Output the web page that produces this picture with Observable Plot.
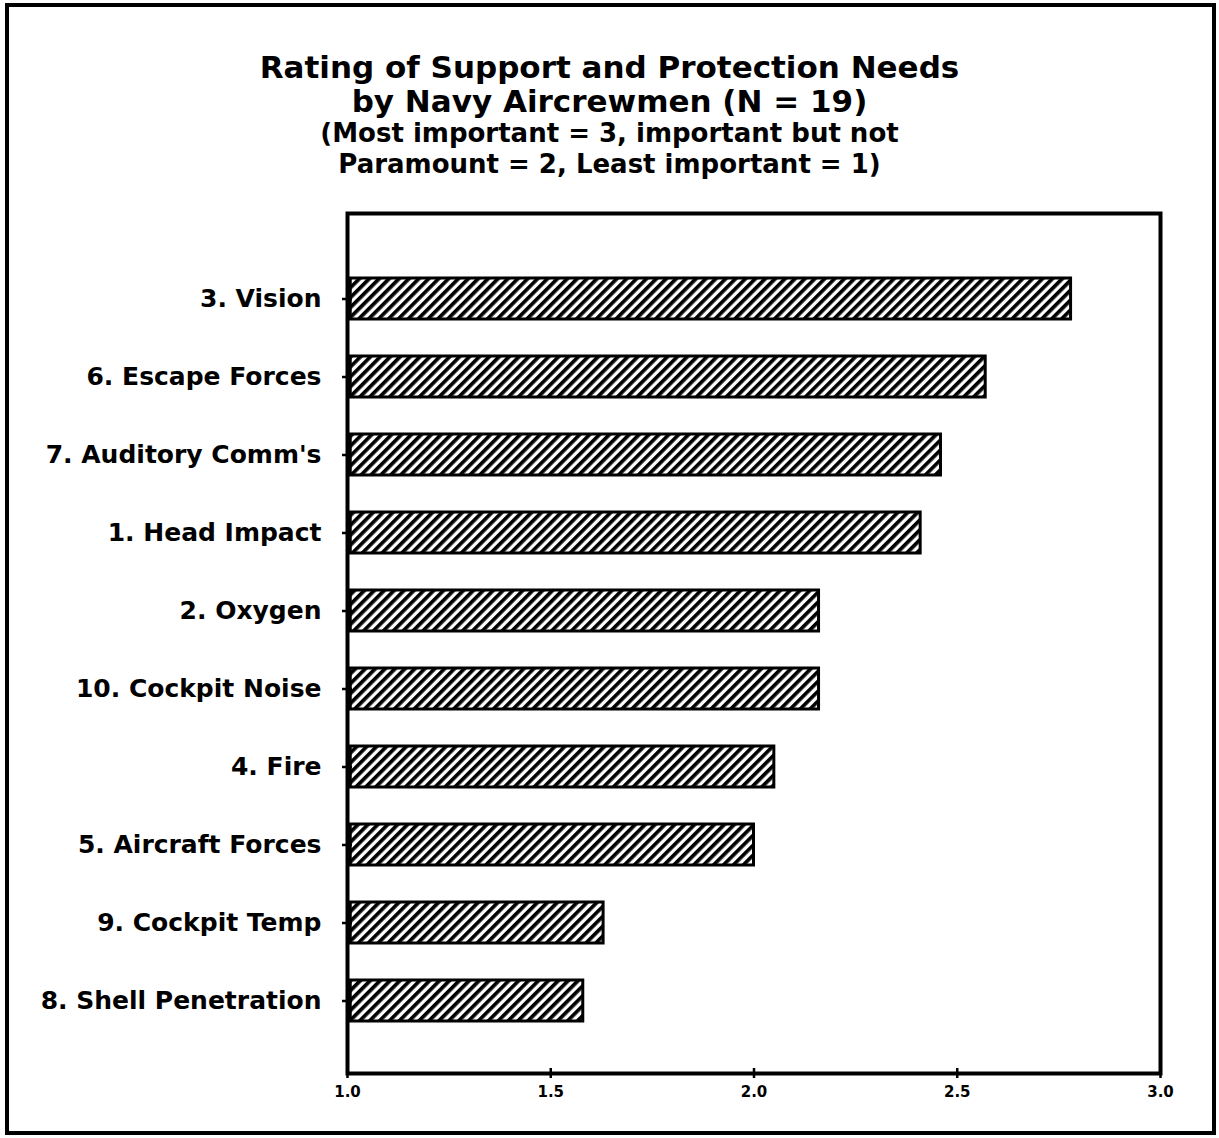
<!DOCTYPE html>
<html>
<head>
<meta charset="utf-8">
<script src="https://cdn.jsdelivr.net/npm/d3@7"></script>
<script src="https://cdn.jsdelivr.net/npm/@observablehq/plot@0.6"></script>
<style>
  html, body { margin: 0; padding: 0; background: #fff; }
  #page { position: relative; width: 1219px; height: 1138px; overflow: hidden; background: #fff; }
  #border { position: absolute; left: 5px; top: 3px; width: 1203px; height: 1124px; border: 4px solid #000; }
  #title { position: absolute; left: 0; top: 50px; width: 1219px; text-align: center; font-family: "DejaVu Sans", sans-serif; color: #000; }
  #title .l1 { font-size: 31px; font-weight: bold; line-height: 34px; }
  #title .l2 { font-size: 26px; font-weight: bold; line-height: 31px; }
  #chart { position: absolute; left: 0; top: 190px; }
</style>
</head>
<body>
<svg width="0" height="0" style="position:absolute">
  <defs>
    <pattern id="hatch" patternUnits="userSpaceOnUse" width="7" height="7" patternTransform="rotate(45)">
      <rect x="0" y="0" width="7" height="7" fill="#fff"></rect>
      <line x1="1.8" y1="0" x2="1.8" y2="7" stroke="#000" stroke-width="3.8"></line>
    </pattern>
  </defs>
</svg>
<div id="page">
  <div id="border"></div>
  <div id="title">
    <div class="l1">Rating of Support and Protection Needs</div>
    <div class="l1">by Navy Aircrewmen (N = 19)</div>
    <div class="l2">(Most important = 3, important but not</div>
    <div class="l2">Paramount = 2, Least important = 1)</div>
  </div>
  <div id="chart"></div>
</div>
<script>
const categories = [
  "3. Vision",
  "6. Escape Forces",
  "7. Auditory Comm's",
  "1. Head Impact",
  "2. Oxygen",
  "10. Cockpit Noise",
  "4. Fire",
  "5. Aircraft Forces",
  "9. Cockpit Temp",
  "8. Shell Penetration"
];
const ratings = [2.78, 2.57, 2.46, 2.41, 2.16, 2.16, 2.05, 2.0, 1.63, 1.58];
const xTicks = [1.0, 1.5, 2.0, 2.5, 3.0];

const data = categories.map((c, i) => ({category: c, rating: ratings[i]}));

const chart = Plot.plot({
  width: 1219,
  height: 940,
  marginLeft: 347,
  marginRight: 59,
  marginTop: 23,
  marginBottom: 57,
  style: {fontFamily: "DejaVu Sans, sans-serif", color: "#000", background: "transparent"},
  x: {domain: [1, 3]},
  y: {domain: categories, paddingInner: 0.47, paddingOuter: 0.72, align: 0.56},
  marks: [
    Plot.barX(data, {
      y: "category",
      x1: 1.008,
      x2: "rating",
      fill: "url(#hatch)",
      stroke: "#000",
      strokeWidth: 3
    }),
    Plot.frame({stroke: "#000", strokeWidth: 4}),
    Plot.axisY({tickSize: 10, dx: 5, strokeWidth: 2.5, text: null, label: null}),
    Plot.axisY({tickSize: 0, tickPadding: 26, fontSize: 25, fontWeight: "bold", label: null}),
    Plot.axisX({ticks: xTicks, tickSize: 10, dy: -5, strokeWidth: 2.5, text: null, label: null}),
    Plot.axisX({ticks: xTicks, tickSize: 0, tickPadding: 13, tickFormat: d3.format(".1f"), fontSize: 15, fontWeight: "bold", label: null})
  ]
});
document.getElementById("chart").appendChild(chart);
</script>
</body>
</html>
